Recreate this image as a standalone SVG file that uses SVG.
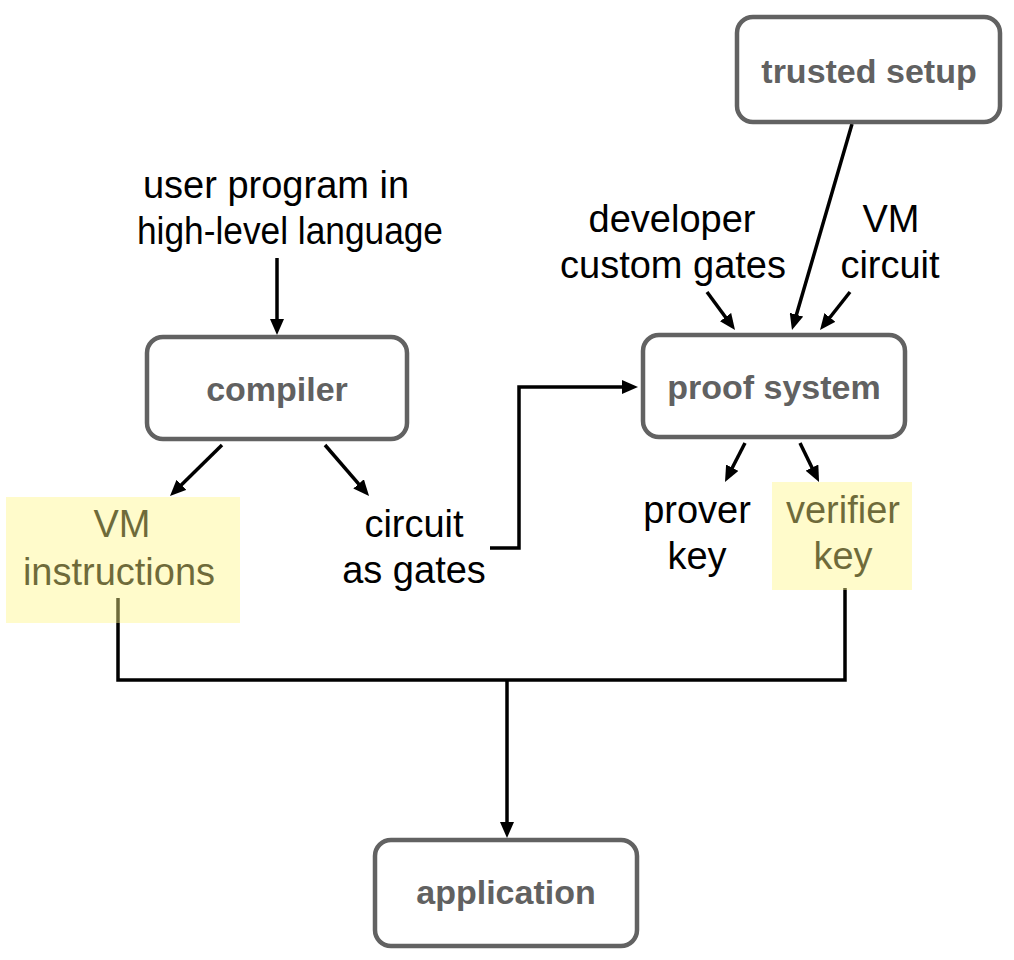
<svg xmlns="http://www.w3.org/2000/svg" width="1014" height="960" viewBox="0 0 1014 960">
<style>
.box{fill:#fff;stroke:#626262;stroke-width:4.5}
.bl{font-family:"Liberation Sans",Arial,sans-serif;font-weight:bold;font-size:34px;fill:#616161;text-anchor:middle}
.tx{font-family:"Liberation Sans",Arial,sans-serif;font-size:38px;fill:#000;text-anchor:middle}
.ln{fill:none;stroke:#000;stroke-width:3.5}
.hl{fill:rgb(255,246,135);fill-opacity:0.43}
</style>
<defs>
<marker id="ah" viewBox="0 0 16 14" refX="2" refY="7" markerWidth="16" markerHeight="14" markerUnits="userSpaceOnUse" orient="auto">
<path d="M0,0 L16,7 L0,14 z" fill="#000"/>
</marker>
</defs>
<rect width="1014" height="960" fill="#fff"/>
<g id="connectors">
<path class="ln" d="M277,258 V321" marker-end="url(#ah)"/>
<path class="ln" d="M222,445 L180,486.2" marker-end="url(#ah)"/>
<path class="ln" d="M325,445 L359.9,485.4" marker-end="url(#ah)"/>
<path class="ln" d="M490,548 H519 V387 H624" marker-end="url(#ah)"/>
<path class="ln" d="M707,292 L726.7,318.7" marker-end="url(#ah)"/>
<path class="ln" d="M852,124 L795.9,316.6" marker-end="url(#ah)"/>
<path class="ln" d="M850,292 L828.7,319" marker-end="url(#ah)"/>
<path class="ln" d="M745,443 L731.4,469.5" marker-end="url(#ah)"/>
<path class="ln" d="M800,443 L812.9,469.4" marker-end="url(#ah)"/>
<path class="ln" d="M118,598 V680 H845 V588"/>
<path class="ln" d="M507,680 V824" marker-end="url(#ah)"/>
</g>
<g id="trusted-setup">
<rect class="box" x="737" y="17" width="263" height="105" rx="16"/>
<text class="bl" x="869" y="83">trusted setup</text>
</g>
<g id="user-program">
<text class="tx" x="276" y="198">user program in</text>
<text class="tx" x="290" y="244" textLength="306" lengthAdjust="spacingAndGlyphs">high-level language</text>
</g>
<g id="developer-gates">
<text class="tx" x="672" y="232">developer</text>
<text class="tx" x="673" y="278">custom gates</text>
</g>
<g id="vm-circuit">
<text class="tx" x="891" y="232">VM</text>
<text class="tx" x="890" y="278">circuit</text>
</g>
<g id="compiler">
<rect class="box" x="147" y="337" width="260" height="102" rx="16"/>
<text class="bl" x="277" y="401">compiler</text>
</g>
<g id="proof-system">
<rect class="box" x="643" y="335" width="262" height="102" rx="16"/>
<text class="bl" x="774" y="399">proof system</text>
</g>
<g id="vm-instructions">
<text class="tx" x="122" y="537">VM</text>
<text class="tx" x="119" y="585">instructions</text>
<rect class="hl" x="6" y="497" width="234" height="126"/>
</g>
<g id="circuit-gates">
<text class="tx" x="414" y="537">circuit</text>
<text class="tx" x="414" y="583">as gates</text>
</g>
<g id="prover-key">
<text class="tx" x="697" y="523">prover</text>
<text class="tx" x="697" y="569">key</text>
</g>
<g id="verifier-key">
<text class="tx" x="843" y="523">verifier</text>
<text class="tx" x="843" y="569">key</text>
<rect class="hl" x="772" y="482" width="140" height="108"/>
</g>
<g id="application">
<rect class="box" x="375" y="840" width="262" height="106" rx="16"/>
<text class="bl" x="506" y="904">application</text>
</g>
</svg>
